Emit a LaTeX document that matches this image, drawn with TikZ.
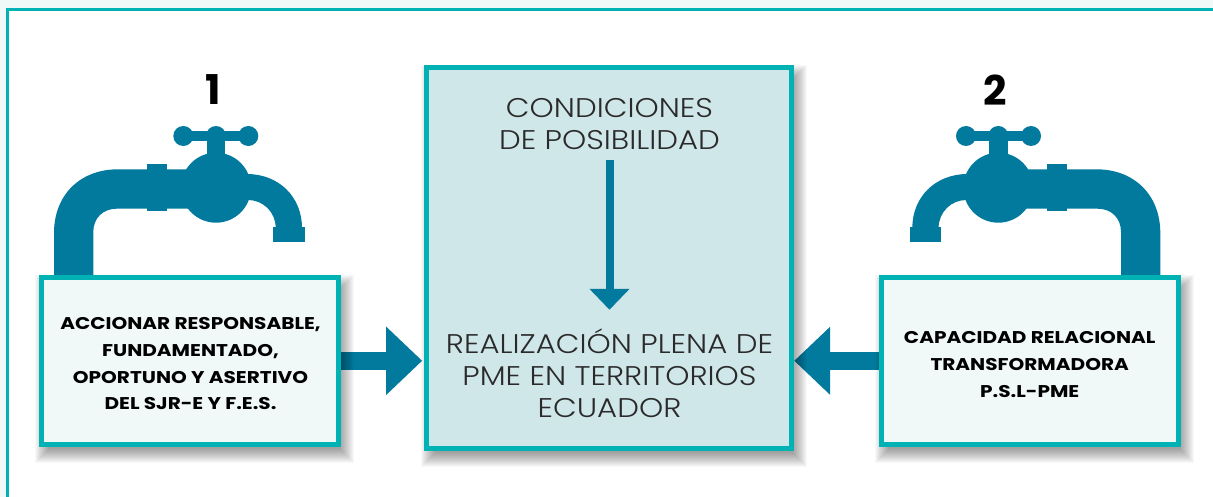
\documentclass[tikz,border=0pt]{standalone}
\usepackage{fontspec}
\setmainfont{Poppins Light}
\newfontfamily\lightf[FakeStretch=1.14]{Poppins Light}
\newfontfamily\boldf[FakeStretch=1.18]{Poppins Bold}
\newfontfamily\numf{Poppins Bold}
\usetikzlibrary{arrows.meta,calc}
\definecolor{teal1}{HTML}{00B2B3}
\definecolor{pipe}{HTML}{017A9E}
\definecolor{pale}{HTML}{F0F8F8}
\definecolor{mid}{HTML}{D0E7EA}
\definecolor{txt}{HTML}{2A2A2A}
\tikzset{
  smallbox/.style={draw=teal1,line width=5pt,fill=pale,minimum width=297pt,minimum height=167pt,inner sep=0pt},
  boxtext/.style={align=center,font=\boldf\fontsize{17}{26.7}\selectfont,text=black,inner sep=0pt},
  bigbox/.style={draw=teal1,line width=5pt,fill=mid,minimum width=365pt,minimum height=381pt,inner sep=0pt},
  lighttext/.style={align=center,font=\lightf\fontsize{27}{32.3}\selectfont,text=txt,inner sep=0pt},
  num/.style={font=\numf\fontsize{41}{41}\selectfont,text=black,inner sep=0pt},
  flow/.style={pipe,line width=18pt,-{Triangle[length=36pt,width=66pt]}},
  flowdown/.style={pipe,line width=8pt,-{Triangle[length=21pt,width=39pt]}},
}
\newcommand{\faucet}{%
  \fill[pipe] (54,280) -- (54,233) .. controls (54,195) and (80,169.3) .. (118,169.3) -- (216,169.3) -- (216,208.7) -- (116.7,208.7) .. controls (103,208.7) and (93.3,218) .. (93.3,232) -- (93.3,280) -- cycle;
  \fill[pipe] (147,164) rectangle (167,210.7);
  \fill[pipe] (216,174) -- (246.7,174) .. controls (279,174) and (302,197) .. (302,228) -- (275.7,228) .. controls (275.7,212) and (263,200) .. (248,200) -- (216,200) -- cycle;
  \fill[pipe] (273.3,227.3) rectangle (304.7,242.3);
  \fill[pipe] (216,187.7) circle (35);
  \fill[pipe] (206.7,136) rectangle (225.3,170);
  \fill[pipe] (183.3,131) rectangle (248.3,141);
  \foreach \cx in {183.3,216,248.3} \fill[pipe] (\cx,136) circle (10);
}
\newcommand{\softshadow}[4]{%
  \foreach \s in {-6,-5,...,8} {
    \fill[black,opacity=0.028] (#1+5-\s,#2+8-\s) rectangle (#3+5+\s,#4+8+\s);
  }
}
\begin{document}
\begin{tikzpicture}[x=1pt,y=-1pt]
\useasboundingbox (0,0) rectangle (1213,497);
\fill[pale] (0,0) rectangle (1213,497);
\fill[white] (7.5,9.5) rectangle (1213,497);
\draw[teal1,line width=3pt] (7.5,497) -- (7.5,9.5) -- (1213,9.5);
\faucet
\begin{scope}[xshift=1214.3pt,xscale=-1]\faucet\end{scope}
\node[num] (n1) at (213.5,90) {1};
\node[num] (n2) at (995.3,90) {2};
\node[smallbox,draw=none,fill=none] (b1) at (189.5,360.8) {};
\node[smallbox,draw=none,fill=none] (b2) at (1029.7,360.8) {};
\node[bigbox,draw=none,fill=none] (c) at (609.2,257.8) {};
\draw[flow,shorten >=2pt] (b1.east) -- (b1.east -| c.west);
\draw[flow] (b2.west) -- (b2.west -| c.east);
\softshadow{38.3}{275}{340.7}{446.7}
\softshadow{878.3}{275}{1181}{446.7}
\softshadow{424}{65}{794.3}{450.7}
\node[smallbox] (f1) at (b1) {};
\node[smallbox] (f2) at (b2) {};
\node[bigbox] (f3) at (c) {};
\node[boxtext] (t1) at ($(b1)+(1,3)$) {ACCIONAR RESPONSABLE,\\FUNDAMENTADO,\\OPORTUNO Y ASERTIVO\\DEL SJR-E Y F.E.S.};
\node[boxtext] (t2) at ($(b2)+(0,3.6)$) {CAPACIDAD RELACIONAL\\TRANSFORMADORA\\P.S.L-PME};
\node[lighttext] (top) at (609.5,124.3) {CONDICIONES\\DE POSIBILIDAD};
\node[lighttext] (bot) at (609.5,373.2) {REALIZACIÓN PLENA DE\\PME EN TERRITORIOS\\ECUADOR};
\draw[flowdown,shorten <=10pt,shorten >=18.5pt] (top.south) -- (bot.north);
\end{tikzpicture}
\end{document}
